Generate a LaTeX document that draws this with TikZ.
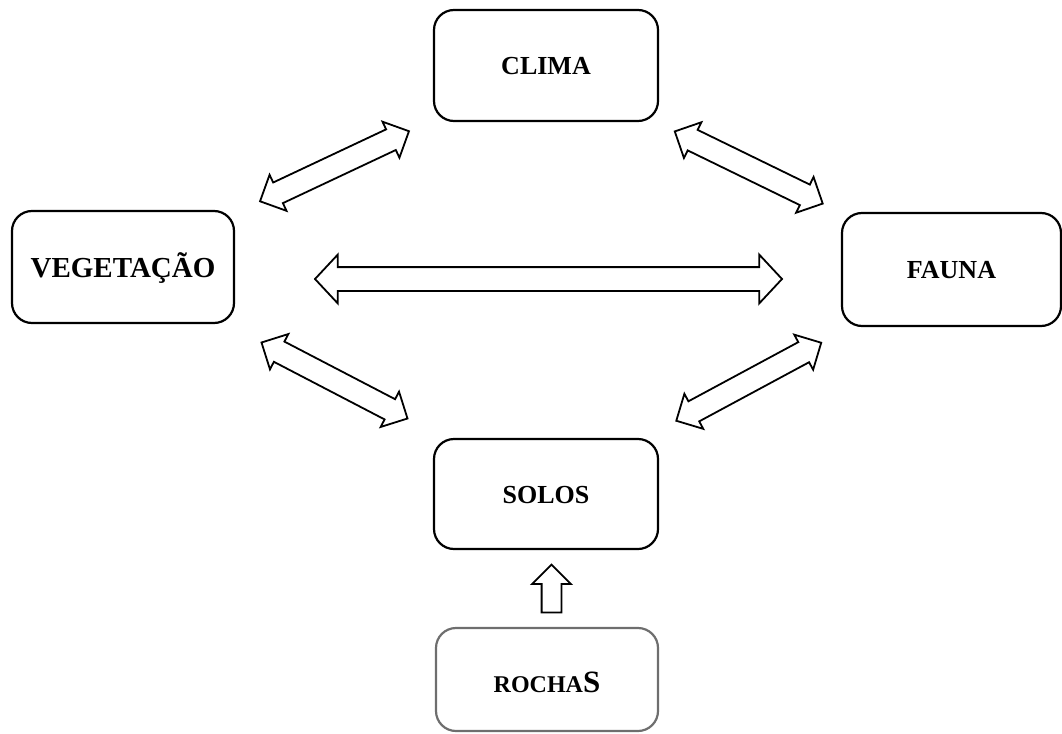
\documentclass[tikz,border=0pt]{standalone}
\usepackage{fontspec}
\setmainfont{Liberation Serif}
\usetikzlibrary{shapes.arrows,calc}
\definecolor{rockgray}{RGB}{110,110,110}
\tikzset{
  box/.style={draw=black, line width=2.2pt, rounded corners=20pt,
    minimum width=224pt, minimum height=111pt, inner sep=0pt,
    text depth=0pt, text height=18pt,
    font=\bfseries\fontsize{26}{30}\selectfont},
  dblarrow/.style={double arrow, draw=black, line width=1.8pt, fill=white,
    inner xsep=0pt, inner ysep=10.5pt, text height=0pt, text depth=0pt,
    minimum width=38pt, minimum height=164.6pt,
    double arrow head extend=8.5pt, double arrow tip angle=90},
  uparrow/.style={single arrow, draw=black, line width=1.8pt, fill=white,
    inner xsep=0pt, inner ysep=9pt, text height=0pt, text depth=0pt,
    minimum width=37pt, minimum height=48pt,
    single arrow head extend=9.5pt, single arrow tip angle=90, rotate=90}
}
\begin{document}
\begin{tikzpicture}[x=1pt,y=-1pt]
\useasboundingbox (0,0) rectangle (1062,733);
\node[box] (clima) at (546,65.5) {CLIMA};
\node[box, minimum width=222pt, minimum height=112pt, text height=20pt,
  font=\bfseries\fontsize{29}{33}\selectfont] (veg) at (123,267) {VEGETAÇÃO};
\node[box, minimum width=219pt, minimum height=113pt] (fauna) at (951.5,269.5) {FAUNA};
\node[box, minimum height=110pt] (solos) at (546,494) {SOLOS};
\node[box, draw=rockgray, minimum width=222pt, minimum height=103pt,
  text height=25pt, font=\bfseries] (rochas) at (547,679.5)
  {\fontsize{24}{28}\selectfont ROCHA\fontsize{31}{34}\selectfont S};
% connectors
\node[dblarrow, rotate=25.2] (a1) at ($(veg)!0.5!(clima)$) {};
\node[dblarrow, rotate=-26] (a2) at ($(clima)!0.5!(fauna)$) {};
\node[dblarrow, rotate=-27.5] (a3) at ($(veg)!0.5!(solos)$) {};
\node[dblarrow, rotate=28.3] (a4) at ($(solos)!0.5!(fauna)$) {};
\node[dblarrow, inner ysep=11pt, minimum width=47pt, minimum height=467pt,
  double arrow head extend=12.5pt, double arrow tip angle=94] (a5) at (548.5,279) {};
\node[uparrow] (a6) at ($(solos.south)!0.5!(rochas.north)+(5,5)$) {};
\end{tikzpicture}
\end{document}
